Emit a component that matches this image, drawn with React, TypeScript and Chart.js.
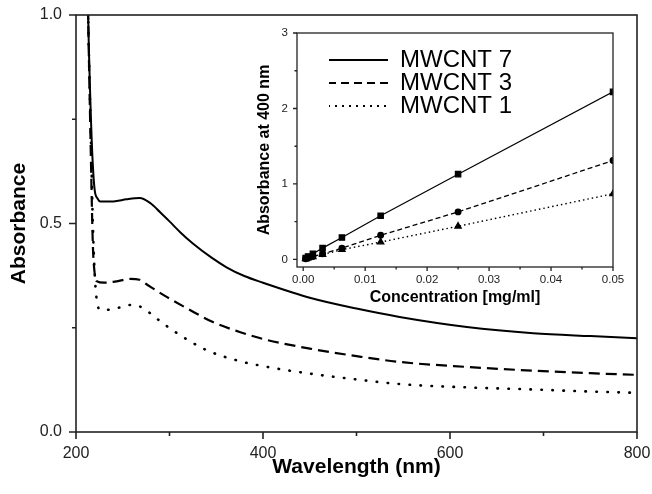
import React, { useEffect, useRef } from "react";
import { Chart, registerables } from "chart.js";

Chart.register(...registerables);

const FONT = "'Liberation Sans', Arial, Helvetica, sans-serif";

// ---------- main spectrum data ----------
const seriesNames = ["MWCNT 7", "MWCNT 3", "MWCNT 1"];

const wl7 = [211, 213, 216, 218, 220, 223, 226, 240, 254, 268, 280, 290, 300, 312, 325, 345, 361, 380, 400, 450, 500, 546, 618, 689, 750, 800];
const abs7 = [1.3, 1.0, 0.75, 0.64, 0.58, 0.56, 0.553, 0.553, 0.558, 0.561, 0.548, 0.527, 0.505, 0.478, 0.452, 0.418, 0.395, 0.374, 0.358, 0.322, 0.296, 0.276, 0.252, 0.237, 0.23, 0.225];

const wl3 = [211, 213, 216, 218, 220, 222, 230, 245, 258, 268, 277, 297, 320, 347, 375, 400, 450, 500, 546, 618, 689, 750, 800];
const abs3 = [1.3, 1.0, 0.65, 0.45, 0.38, 0.362, 0.358, 0.362, 0.367, 0.365, 0.352, 0.324, 0.295, 0.263, 0.24, 0.223, 0.2, 0.182, 0.168, 0.156, 0.147, 0.141, 0.137];

const wl1 = [211, 213, 216, 218, 220, 222, 226, 236, 249, 260, 272, 284, 308, 340, 375, 400, 450, 500, 546, 618, 689, 750, 800];
const abs1 = [1.3, 1.0, 0.7, 0.5, 0.38, 0.32, 0.293, 0.293, 0.3, 0.305, 0.297, 0.276, 0.237, 0.196, 0.17, 0.158, 0.14, 0.126, 0.115, 0.107, 0.102, 0.097, 0.094];

// ---------- inset calibration data ----------
const concentration = [0.000390625, 0.00078125, 0.0015625, 0.003125, 0.00625, 0.0125, 0.025, 0.05];
const cal7 = [0.02, 0.04, 0.075, 0.15, 0.29, 0.58, 1.13, 2.22];
const cal3 = [0.01, 0.02, 0.04, 0.075, 0.15, 0.32, 0.63, 1.31];
const cal1 = [0.009, 0.018, 0.035, 0.065, 0.13, 0.23, 0.44, 0.87];

// ---------- ticks ----------
const mainXTicks = [200, 300, 400, 500, 600, 700, 800];
const mainXLabeled = [200, 400, 600, 800];
const mainYTicks = [0, 0.25, 0.5, 0.75, 1.0];
const mainYLabeled = [0, 0.5, 1.0];
const insetXTicks = [0, 0.005, 0.01, 0.015, 0.02, 0.025, 0.03, 0.035, 0.04, 0.045, 0.05];
const insetXLabeled = [0, 0.01, 0.02, 0.03, 0.04, 0.05];
const insetYTicks = [0, 0.5, 1, 1.5, 2, 2.5, 3];
const insetYLabeled = [0, 1, 2, 3];

const has = (arr: number[], v: number) => arr.some((m) => Math.abs(m - v) < 1e-9);
const pts = (xs: number[], ys: number[]) => xs.map((x, i) => ({ x, y: ys[i] }));

function makeFrame(cfg: { xMajor: number[]; yMajor: number[]; majorLen: number; minorLen: number; width: number }) {
  return {
    id: "frameTicks",
    afterDraw(chart: any) {
      const { ctx, chartArea: a, scales } = chart;
      ctx.save();
      ctx.strokeStyle = "#222";
      ctx.lineWidth = cfg.width;
      ctx.setLineDash([]);
      ctx.strokeRect(a.left, a.top, a.right - a.left, a.bottom - a.top);
      ctx.beginPath();
      scales.x.ticks.forEach((t: any) => {
        const p = scales.x.getPixelForValue(t.value);
        const len = has(cfg.xMajor, t.value) ? cfg.majorLen : cfg.minorLen;
        ctx.moveTo(p, a.bottom);
        ctx.lineTo(p, a.bottom + len);
      });
      scales.y.ticks.forEach((t: any) => {
        const p = scales.y.getPixelForValue(t.value);
        const len = has(cfg.yMajor, t.value) ? cfg.majorLen : cfg.minorLen;
        ctx.moveTo(a.left - len, p);
        ctx.lineTo(a.left, p);
      });
      ctx.stroke();
      ctx.restore();
    },
  };
}

const legendShift = {
  id: "legendShift",
  afterLayout(chart: any) {
    const l = chart.legend;
    if (l) {
      l.left = chart.chartArea.left + 32;
      l.top = chart.chartArea.top + 16;
      l.right = chart.chartArea.right;
      l.bottom = chart.chartArea.bottom;
    }
  },
};

const legendDashes = [[], [8, 5], [2, 5]];

const fitX = (h: number) => (s: any) => {
  s.height = h;
  s.paddingLeft = 0;
  s.paddingRight = 0;
  s.paddingTop = 0;
  s.paddingBottom = 0;
};
const fitY = (w: number) => (s: any) => {
  s.width = w;
  s.paddingLeft = 0;
  s.paddingRight = 0;
  s.paddingTop = 0;
  s.paddingBottom = 0;
};

export default function App() {
  const mainRef = useRef<HTMLCanvasElement>(null);
  const insetRef = useRef<HTMLCanvasElement>(null);

  useEffect(() => {
    const main = new Chart(mainRef.current!, {
      type: "line",
      data: {
        datasets: [
          { label: seriesNames[0], data: pts(wl7, abs7), borderColor: "#000", borderWidth: 2, pointRadius: 0, cubicInterpolationMode: "monotone", borderDash: [] },
          { label: seriesNames[1], data: pts(wl3, abs3), borderColor: "#000", borderWidth: 2.2, pointRadius: 0, cubicInterpolationMode: "monotone", borderDash: [11, 6] },
          { label: seriesNames[2], data: pts(wl1, abs1), borderColor: "#000", borderWidth: 2.6, pointRadius: 0, cubicInterpolationMode: "monotone", borderDash: [0.5, 10.5], borderCapStyle: "round" },
        ],
      },
      options: {
        responsive: false,
        animation: false,
        events: [],
        layout: { padding: { top: 15, right: 15, left: 0, bottom: 0 } },
        plugins: { legend: { display: false }, tooltip: { enabled: false } },
        scales: {
          x: {
            type: "linear",
            min: 200,
            max: 800,
            afterBuildTicks: (s: any) => { s.ticks = mainXTicks.map((v) => ({ value: v })); },
            afterFit: fitX(62),
            grid: { display: false, drawTicks: false },
            border: { display: false },
            ticks: {
              autoSkip: false,
              maxRotation: 0,
              padding: 12,
              color: "#222",
              font: { family: FONT, size: 16 },
              callback: (v: any) => (has(mainXLabeled, v) ? String(v) : ""),
            },
            title: { display: true, text: "Wavelength (nm)", color: "#000", font: { family: FONT, size: 21, weight: "bold" }, padding: { top: 0, bottom: 14 } },
          },
          y: {
            type: "linear",
            min: 0,
            max: 1.0,
            afterBuildTicks: (s: any) => { s.ticks = mainYTicks.map((v) => ({ value: v })); },
            afterFit: fitY(76),
            grid: { display: false, drawTicks: false },
            border: { display: false },
            ticks: {
              autoSkip: false,
              padding: 14,
              color: "#222",
              font: { family: FONT, size: 16 },
              callback: (v: any) => (has(mainYLabeled, v) ? Number(v).toFixed(1) : ""),
            },
            title: { display: true, text: "Absorbance", color: "#000", font: { family: FONT, size: 21, weight: "bold" }, padding: { top: 7, bottom: 0 } },
          },
        },
      },
      plugins: [makeFrame({ xMajor: mainXLabeled, yMajor: mainYLabeled, majorLen: 7, minorLen: 4, width: 1.6 })],
    } as any);

    const inset = new Chart(insetRef.current!, {
      type: "line",
      data: {
        datasets: [
          { label: seriesNames[0], data: pts(concentration, cal7), borderColor: "#000", backgroundColor: "#000", borderWidth: 1.2, pointStyle: "rect", pointRadius: 3.8, borderDash: [] },
          { label: seriesNames[1], data: pts(concentration, cal3), borderColor: "#000", backgroundColor: "#000", borderWidth: 1.3, pointStyle: "circle", pointRadius: 2.8, borderDash: [5, 3] },
          { label: seriesNames[2], data: pts(concentration, cal1), borderColor: "#000", backgroundColor: "#000", borderWidth: 1.4, pointStyle: "triangle", pointRadius: 3.5, borderDash: [1.5, 3] },
        ],
      },
      options: {
        responsive: false,
        animation: false,
        events: [],
        layout: { padding: { top: 13, right: 17, left: 0, bottom: 0 } },
        plugins: {
          tooltip: { enabled: false },
          legend: {
            display: true,
            position: "chartArea",
            align: "start",
            labels: {
              usePointStyle: true,
              pointStyleWidth: 60,
              padding: -1,
              color: "#000",
              font: { family: FONT, size: 24 },
              generateLabels: () =>
                seriesNames.map((name, i) => ({
                  text: name,
                  fillStyle: "rgba(0,0,0,0)",
                  strokeStyle: "#000",
                  lineWidth: 1.8,
                  lineDash: legendDashes[i],
                  lineCap: "butt",
                  pointStyle: "line",
                  hidden: false,
                  datasetIndex: i,
                  fontColor: "#000",
                })),
            },
          },
        },
        scales: {
          x: {
            type: "linear",
            min: -0.001,
            max: 0.05,
            afterBuildTicks: (s: any) => { s.ticks = insetXTicks.map((v) => ({ value: v })); },
            afterFit: fitX(43),
            grid: { display: false, drawTicks: false },
            border: { display: false },
            ticks: {
              autoSkip: false,
              maxRotation: 0,
              padding: 6,
              color: "#222",
              font: { family: FONT, size: 11.5 },
              callback: (v: any) => (has(insetXLabeled, v) ? Number(v).toFixed(2) : ""),
            },
            title: { display: true, text: "Concentration [mg/ml]", color: "#000", font: { family: FONT, size: 16, weight: "bold" }, padding: { top: 0, bottom: 2.4 } },
          },
          y: {
            type: "linear",
            min: -0.1,
            max: 3,
            afterBuildTicks: (s: any) => { s.ticks = insetYTicks.map((v) => ({ value: v })); },
            afterFit: fitY(52),
            grid: { display: false, drawTicks: false },
            border: { display: false },
            ticks: {
              autoSkip: false,
              padding: 9,
              color: "#222",
              font: { family: FONT, size: 11.5 },
              callback: (v: any) => (has(insetYLabeled, v) ? String(v) : ""),
            },
            title: { display: true, text: "Absorbance at 400 nm", color: "#000", font: { family: FONT, size: 16, weight: "bold" }, padding: { top: 10.4, bottom: 0 } },
          },
        },
      },
      plugins: [makeFrame({ xMajor: insetXLabeled, yMajor: insetYLabeled, majorLen: 4, minorLen: 2.5, width: 1.3 }), legendShift],
    } as any);

    return () => {
      main.destroy();
      inset.destroy();
    };
  }, []);

  return (
    <div style={{ position: "fixed", left: 0, top: 0, width: 652, height: 494, background: "#fff" }}>
      <canvas ref={mainRef} width={652} height={494} style={{ position: "absolute", left: 0, top: 0, width: 652, height: 494, display: "block" }} />
      <canvas ref={insetRef} width={385} height={290} style={{ position: "absolute", left: 245, top: 20, width: 385, height: 290, display: "block" }} />
    </div>
  );
}
